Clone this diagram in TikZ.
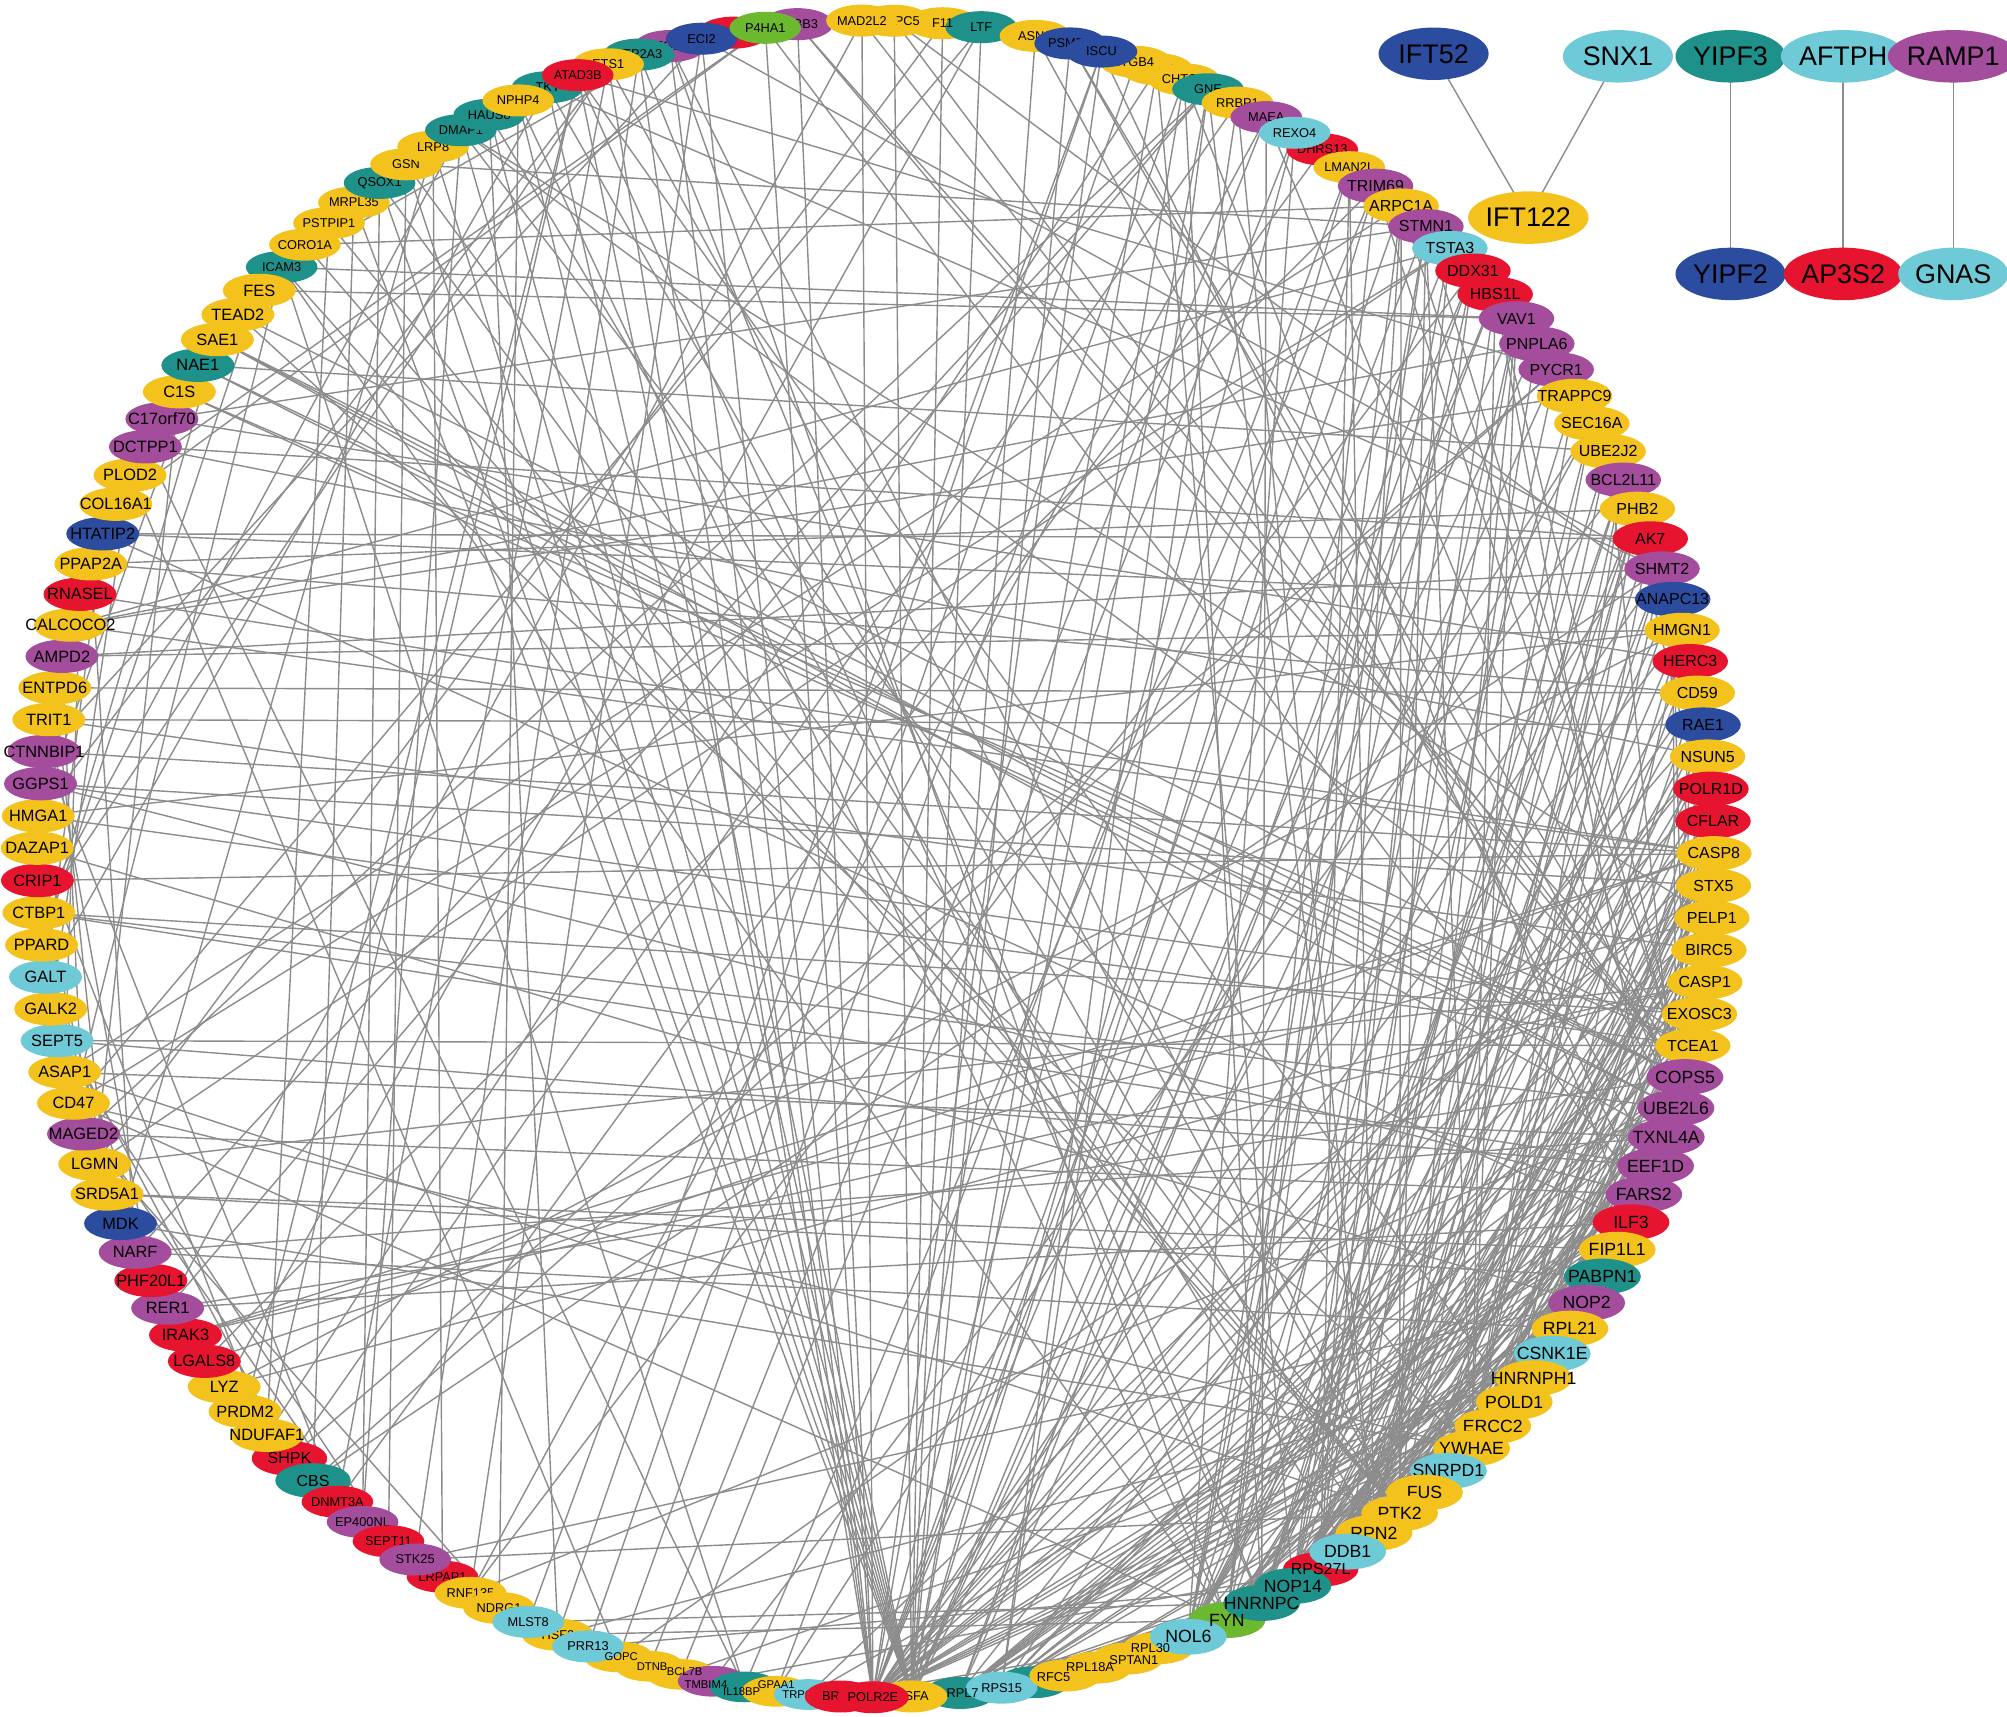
\documentclass[tikz,border=0pt]{standalone}
\usepackage{fontspec}
\setmainfont{Liberation Sans}
\usetikzlibrary{shapes.geometric}
\definecolor{cy}{HTML}{F4C21C}
\definecolor{cp}{HTML}{A44D9C}
\definecolor{ct}{HTML}{1F918B}
\definecolor{cr}{HTML}{E6142F}
\definecolor{cb}{HTML}{2B4C9F}
\definecolor{cc}{HTML}{6ECAD6}
\definecolor{cg}{HTML}{6CB82F}
\definecolor{edgec}{HTML}{8C8C8C}
\pgfdeclarelayer{bg}
\pgfsetlayers{bg,main}
\tikzset{
 gn/.style={ellipse, inner sep=0pt, text=black},
 gt/.style={gn, minimum width=54pt, minimum height=24pt, font=\fontsize{8.8}{9}\selectfont},
 gs/.style={gn, minimum width=56pt, minimum height=25pt, font=\fontsize{10}{11}\selectfont},
 gw/.style={gn, minimum width=57pt, minimum height=26pt, font=\fontsize{12.8}{13}\selectfont},
 gm/.style={gn, minimum width=59pt, minimum height=27pt, font=\fontsize{12.5}{13}\selectfont},
 gl/.style={gn, minimum width=60pt, minimum height=28pt, font=\fontsize{13.8}{15}\selectfont},
 gx/.style={gn, minimum width=86pt, minimum height=41pt, font=\fontsize{21}{23}\selectfont},
 edge/.style={draw=edgec, line width=1.1pt},
}
\newcommand{\cn}[5]{%
 \pgfmathsetmacro{\ang}{-45.1+#1*2.2086}%
 \node[#3, fill=#4] (#2) at ({684+655*sin(\ang)},{671-655*cos(\ang)}) {\makebox[0pt]{#5}};%
}
\newcommand{\cl}[4][]{\node[#3, fill=none, #1] at (#2.center) {\makebox[0pt]{#4}};}
\newcommand{\hub}[2]{\foreach \t in {#2}{\draw[edge] (#1.center) -- (\t.center);}}
\begin{document}
\begin{tikzpicture}[x=1pt,y=-1pt]
\useasboundingbox (0,0) rectangle (1568,1341);
% ---------- top ----------
\cn{0}{ICAM3}{gs}{ct}{ICAM3}
\cn{1}{CORO1A}{gs}{cy}{CORO1A}
\cn{2}{PSTPIP1}{gs}{cy}{PSTPIP1}
\cn{3}{MRPL35}{gs}{cy}{MRPL35}
\cn{4}{QSOX1}{gs}{ct}{QSOX1}
\cn{5}{GSN}{gs}{cy}{GSN}
\cn{6}{LRP8}{gs}{cy}{LRP8}
\cn{7}{DMAP1}{gs}{ct}{DMAP1}
\cn{8}{HAUS8}{gs}{ct}{HAUS8}
\cn{10}{TKT}{gs}{ct}{TKT}
\cn{9}{NPHP4}{gs}{cy}{NPHP4}
\cn{14}{ITGB3}{gs}{cp}{ITGB3}
\cn{13}{ATP2A3}{gs}{ct}{ATP2A3}
\cn{12}{ETS1}{gs}{cy}{ETS1}
\cn{11}{ATAD3B}{gs}{cr}{ATAD3B}
\cn{16}{redtop}{gs}{cr}{}
\cn{15}{ECI2}{gs}{cb}{ECI2}
\cn{18}{TUBB3}{gs}{cp}{TUBB3}
\cn{17}{P4HA1}{gs}{cg}{P4HA1}
\cn{22.5}{F11}{gs}{cy}{}
\cn{23.7}{LTF}{gs}{ct}{LTF}
\cn{21}{ANAPC5}{gs}{cy}{ANAPC5}
\cn{20}{MAD2L2}{gs}{cy}{MAD2L2}
\cl{F11}{gs}{F11}
\cn{25.4}{ASNS}{gs}{cy}{ASNS}
\cn{26.5}{PSMD1}{gs}{cb}{PSMD1}
\cn{29.3}{SMC4}{gs}{cy}{SMC4}
\cn{28.6}{ITGB4}{gs}{cy}{ITGB4}
\cn{27.5}{ISCU}{gs}{cb}{ISCU}
\cn{30.2}{CHTOP}{gs}{cy}{CHTOP}
\cn{31}{GNE}{gs}{ct}{GNE}
\cn{32}{RRBP1}{gs}{cy}{RRBP1}
\cn{33}{MAEA}{gs}{cp}{MAEA}
\cn{35}{DHRS13}{gs}{cr}{DHRS13}
\cn{34}{REXO4}{gs}{cc}{REXO4}
\cn{36}{LMAN2L}{gs}{cy}{LMAN2L}
\cn{37}{TRIM69}{gm}{cp}{TRIM69}
\cn{38}{ARPC1A}{gm}{cy}{ARPC1A}
\cn{39}{STMN1}{gm}{cp}{STMN1}
\cn{40}{TSTA3}{gm}{cc}{TSTA3}
% ---------- right ----------
\cn{41}{DDX31}{gm}{cr}{DDX31}
\cn{42}{HBS1L}{gm}{cr}{HBS1L}
\cn{43}{VAV1}{gm}{cp}{VAV1}
\cn{44}{PNPLA6}{gm}{cp}{PNPLA6}
\cn{45}{PYCR1}{gm}{cp}{PYCR1}
\cn{46}{TRAPPC9}{gm}{cy}{TRAPPC9}
\cn{47}{SEC16A}{gm}{cy}{SEC16A}
\cn{48}{UBE2J2}{gm}{cy}{UBE2J2}
\cn{49}{BCL2L11}{gm}{cp}{BCL2L11}
\cn{50}{PHB2}{gm}{cy}{PHB2}
\cn{51}{AK7}{gm}{cr}{AK7}
\cn{52}{SHMT2}{gm}{cp}{SHMT2}
\cn{53}{ANAPC13}{gm}{cb}{ANAPC13}
\cn{54}{HMGN1}{gm}{cy}{HMGN1}
\cn{55}{HERC3}{gm}{cr}{HERC3}
\cn{56}{CD59}{gm}{cy}{CD59}
\cn{57}{RAE1}{gm}{cb}{RAE1}
\cn{58}{NSUN5}{gm}{cy}{NSUN5}
\cn{59}{POLR1D}{gm}{cr}{POLR1D}
\cn{60}{CFLAR}{gm}{cr}{CFLAR}
\cn{61}{CASP8}{gm}{cy}{CASP8}
\cn{62}{STX5}{gm}{cy}{STX5}
\cn{63}{PELP1}{gm}{cy}{PELP1}
\cn{64}{BIRC5}{gm}{cy}{BIRC5}
\cn{65}{CASP1}{gm}{cy}{CASP1}
\cn{66}{EXOSC3}{gm}{cy}{EXOSC3}
\cn{67}{TCEA1}{gm}{cy}{TCEA1}
\cn{68}{COPS5}{gl}{cp}{COPS5}
\cn{69}{UBE2L6}{gl}{cp}{UBE2L6}
\cn{69.95}{TXNL4A}{gl}{cp}{TXNL4A}
\cn{70.9}{EEF1D}{gl}{cp}{EEF1D}
\cn{71.85}{FARS2}{gl}{cp}{FARS2}
\cn{72.8}{ILF3}{gl}{cr}{ILF3}
\cn{73.75}{FIP1L1}{gl}{cy}{FIP1L1}
\cn{74.7}{PABPN1}{gl}{ct}{PABPN1}
\cn{75.65}{NOP2}{gl}{cp}{NOP2}
\cn{76.6}{RPL21}{gl}{cy}{RPL21}
\cn{77.55}{CSNK1E}{gl}{cc}{CSNK1E}
\cn{78.5}{HNRNPH1}{gl}{cy}{HNRNPH1}
\cn{79.45}{POLD1}{gl}{cy}{POLD1}
\cn{80.45}{ERCC2}{gl}{cy}{ERCC2}
\cn{81.4}{YWHAE}{gl}{cy}{YWHAE}
\cn{82.4}{SNRPD1}{gl}{cc}{SNRPD1}
\cn{83.4}{FUS}{gl}{cy}{FUS}
\cn{84.4}{PTK2}{gl}{cy}{PTK2}
\cn{85.4}{RPN2}{gl}{cy}{RPN2}
% ---------- bottom ----------
\cn{122}{SHPK}{gm}{cr}{SHPK}
\cn{121}{CBS}{gm}{ct}{CBS}
\cn{120}{DNMT3A}{gs}{cr}{DNMT3A}
\cn{119}{EP400NL}{gs}{cp}{EP400NL}
\cn{118}{SEPT11}{gs}{cr}{SEPT11}
\cn{116}{LRPAP1}{gs}{cr}{LRPAP1}
\cn{117}{STK25}{gs}{cp}{STK25}
\cn{115}{RNF135}{gs}{cy}{RNF135}
\cn{114}{NDRG1}{gs}{cy}{NDRG1}
\cn{112}{HSF2}{gs}{cy}{HSF2}
\cn{113}{MLST8}{gs}{cc}{MLST8}
\cn{108}{BCL7B}{gt}{cy}{}
\cn{109}{DTNB}{gt}{cy}{}
\cn{110}{GOPC}{gt}{cy}{}
\cn{111}{PRR13}{gs}{cc}{PRR13}
\cn{107}{TMBIM4}{gt}{cp}{}
\cn{106}{IL18BP}{gt}{ct}{}
\cn{105}{GPAA1}{gt}{cy}{}
\cn{104}{TRPC4AP}{gt}{cc}{TRPC4AP}
\cn{103}{BR}{gs}{cr}{BRIX1}
\cn{99.3}{RPL7}{gs}{ct}{}
\cn{100.8}{GSFA}{gs}{cy}{GSFA}
\cn{102}{POLR2E}{gs}{cr}{POLR2E}
\cn{97}{tealbot}{gs}{ct}{}
\cn{98}{RPS15}{gs}{cc}{}
\cn{96}{RFC5}{gs}{cy}{}
\cn{95}{RPL18A}{gs}{cy}{}
\cn{94}{SPTAN1}{gs}{cy}{}
\cn{93}{RPL30}{gs}{cy}{}
\cn{90.7}{FYN}{gl}{cg}{}
\cn{92}{NOL6}{gl}{cc}{NOL6}
\cn{89.5}{HNRNPC}{gl}{ct}{}
\cn{87.4}{RPS27L}{gm}{cr}{}
\cn{88.4}{NOP14}{gl}{ct}{}
\cn{86.4}{DDB1}{gl}{cc}{DDB1}
\cl[xshift=2pt]{GOPC}{gt}{GOPC}
\cl[xshift=2pt]{DTNB}{gt}{DTNB}
\cl[xshift=3pt,yshift=2pt]{BCL7B}{gt}{BCL7B}
\cl[xshift=-5pt,yshift=-3pt]{TMBIM4}{gt}{TMBIM4}
\cl[xshift=-2pt,yshift=-4pt]{IL18BP}{gt}{IL18BP}
\cl[yshift=5pt]{GPAA1}{gt}{GPAA1}
\cl[xshift=2pt]{RPL7}{gs}{RPL7}
\cl{RPS15}{gs}{RPS15}
\cl[xshift=-9pt,yshift=-1pt]{RFC5}{gs}{RFC5}
\cl[xshift=-5pt]{RPL18A}{gs}{RPL18A}
\cl[xshift=5pt,yshift=-1pt]{SPTAN1}{gs}{SPTAN1}
\cl[xshift=-6pt]{RPL30}{gs}{RPL30}
\cl{FYN}{gl}{FYN}
\cl{HNRNPC}{gl}{HNRNPC}
\cl{RPS27L}{gm}{RPS27L}
\cl{NOP14}{gl}{NOP14}
% ---------- left ----------
\cn{123}{NDUFAF1}{gw}{cy}{NDUFAF1}
\cn{124}{PRDM2}{gw}{cy}{PRDM2}
\cn{125}{LYZ}{gw}{cy}{LYZ}
\cn{126}{LGALS8}{gw}{cr}{LGALS8}
\cn{127}{IRAK3}{gw}{cr}{IRAK3}
\cn{128}{RER1}{gw}{cp}{RER1}
\cn{129}{PHF20L1}{gw}{cr}{PHF20L1}
\cn{130}{NARF}{gw}{cp}{NARF}
\cn{131}{MDK}{gw}{cb}{MDK}
\cn{132}{SRD5A1}{gw}{cy}{SRD5A1}
\cn{133}{LGMN}{gw}{cy}{LGMN}
\cn{134}{MAGED2}{gw}{cp}{MAGED2}
\cn{135}{CD47}{gw}{cy}{CD47}
\cn{136}{ASAP1}{gw}{cy}{ASAP1}
\cn{137}{SEPT5}{gw}{cc}{SEPT5}
\cn{138}{GALK2}{gw}{cy}{GALK2}
\cn{139}{GALT}{gw}{cc}{GALT}
\cn{140}{PPARD}{gw}{cy}{PPARD}
\cn{141}{CTBP1}{gw}{cy}{CTBP1}
\cn{142}{CRIP1}{gw}{cr}{CRIP1}
\cn{143}{DAZAP1}{gw}{cy}{DAZAP1}
\cn{144}{HMGA1}{gw}{cy}{HMGA1}
\cn{145}{GGPS1}{gw}{cp}{GGPS1}
\cn{146}{CTNNBIP1}{gw}{cp}{CTNNBIP1}
\cn{147}{TRIT1}{gw}{cy}{TRIT1}
\cn{148}{ENTPD6}{gw}{cy}{ENTPD6}
\cn{149}{AMPD2}{gw}{cp}{AMPD2}
\cn{150}{CALCOCO2}{gw}{cy}{CALCOCO2}
\cn{151}{RNASEL}{gw}{cr}{RNASEL}
\cn{152}{PPAP2A}{gw}{cy}{PPAP2A}
\cn{153}{HTATIP2}{gw}{cb}{HTATIP2}
\cn{154}{COL16A1}{gw}{cy}{COL16A1}
\cn{155}{PLOD2}{gw}{cy}{PLOD2}
\cn{156}{DCTPP1}{gw}{cp}{DCTPP1}
\cn{157}{C17orf70}{gw}{cp}{C17orf70}
\cn{158}{C1S}{gw}{cy}{C1S}
\cn{159}{NAE1}{gw}{ct}{NAE1}
\cn{160}{SAE1}{gw}{cy}{SAE1}
\cn{161}{TEAD2}{gw}{cy}{TEAD2}
\cn{162}{FES}{gw}{cy}{FES}
% ---------- separate pairs ----------
\node[gx, fill=cb] (IFT52) at (1120,42) {IFT52};
\node[gx, fill=cc] (SNX1) at (1264,44) {SNX1};
\node[gx, fill=ct] (YIPF3) at (1352,44) {YIPF3};
\node[gx, fill=cc] (AFTPH) at (1440,44) {AFTPH};
\node[gx, fill=cp] (RAMP1) at (1526,44) {RAMP1};
\node[gx, fill=cy] (IFT122) at (1194,170) {IFT122};
\node[gx, fill=cb] (YIPF2) at (1352,214) {YIPF2};
\node[gx, fill=cr] (AP3S2) at (1440,214) {AP3S2};
\node[gx, fill=cc] (GNAS) at (1526,214) {GNAS};
% ---------- edges ----------
\begin{pgfonlayer}{bg}
\foreach \a/\b in {IFT52/IFT122,SNX1/IFT122,YIPF3/YIPF2,AFTPH/AP3S2,RAMP1/GNAS}{\draw[edge] (\a.center) -- (\b.center);}
\hub{POLR2E}{TCEA1,POLR1D,ERCC2,POLD1,RFC5,HMGN1,TUBB3,P4HA1,ECI2,ITGB3,ATP2A3,ETS1,TSTA3,STMN1,ARPC1A,EXOSC3,NSUN5,RAE1,COPS5,UBE2L6,ILF3,HNRNPH1,CSNK1E,SMC4,ISCU,MAD2L2,PELP1,FIP1L1,PABPN1,DDX31,REXO4,CASP8,SHMT2,AK7}
\hub{GSFA}{ANAPC5,F11,LTF,ASNS,PSMD1,CHTOP,GNE,HBS1L,VAV1,LRP8,GSN,NPHP4,TKT,DMAP1,QSOX1,MRPL35,HAUS8,ATAD3B,TRIM69,LMAN2L,SEC16A,PNPLA6}
\hub{RPL7}{RPL21,RPS27L,RPL30,NOP2,NOP14,NOL6,EEF1D,FARS2,ILF3,HNRNPC,RPL18A,NSUN5,UBE2L6,TXNL4A,COPS5,DDX31,HBS1L,PYCR1}
\hub{RPS15}{RPL21,RPS27L,RPL30,NOP2,NOP14,EEF1D,HNRNPH1,FARS2,CASP1,BIRC5,GNE,RRBP1,CD59}
\hub{NOL6}{NOP14,NOP2,RAE1,NSUN5,POLR1D,DDX31,EXOSC3,RPL21,FIP1L1,REXO4,TSTA3,STMN1,TRAPPC9,PHB2,HERC3,CD59,ANAPC13,ILF3}
\hub{HNRNPC}{HNRNPH1,ILF3,FUS,SNRPD1,PABPN1,FIP1L1,TXNL4A,EEF1D,YWHAE,CSNK1E,COPS5,NOP2,SHMT2,HMGN1,PHB2,UBE2J2,BCL2L11,MAEA,CHTOP}
\hub{NOP14}{NOP2,RPL21,NSUN5,POLR1D,DDX31,EXOSC3,RAE1,TCEA1,CASP8,STX5,PELP1,AK7,PYCR1,VAV1,SEC16A}
\hub{FYN}{PTK2,VAV1,CASP8,YWHAE,BCL2L11,STMN1,ICAM3,PELP1,CD47,CSNK1E,UBE2L6,CFLAR,BIRC5,TRIM69,ARPC1A}
\hub{RPS27L}{DDB1,ERCC2,POLD1,CASP8,CFLAR,BIRC5,CASP1,TXNL4A,FARS2,UBE2L6,STX5,HBS1L,TSTA3,ARPC1A,LMAN2L}
\hub{DDB1}{ERCC2,POLD1,COPS5,RFC5,CASP8,CFLAR,UBE2L6,EEF1D,ANAPC13,HERC3,SHMT2,PHB2,PNPLA6}
\hub{RPN2}{RPL21,NOP2,FARS2,EEF1D,SEC16A,TRAPPC9,STX5,LMAN2L,RRBP1,PHB2,UBE2J2,GNE}
\hub{PTK2}{YWHAE,CASP8,CFLAR,BIRC5,BCL2L11,VAV1,ICAM3,CORO1A,ARPC1A,STMN1,GSN,PELP1}
\hub{FUS}{ILF3,SNRPD1,HNRNPH1,FIP1L1,PABPN1,TXNL4A,EXOSC3,EEF1D,CD59,HMGN1}
\hub{YWHAE}{BIRC5,CASP8,BCL2L11,CFLAR,CSNK1E,STMN1,VAV1,COPS5,SHMT2,AK7,PHB2,HBS1L,TEAD2}
\hub{SNRPD1}{TXNL4A,PABPN1,FIP1L1,ILF3,NOP2,HNRNPH1,EXOSC3,TCEA1}
\hub{ERCC2}{POLD1,TCEA1,RFC5,CASP1,BIRC5,POLR1D,RAE1}
\hub{POLD1}{RFC5,PELP1,CASP8,EXOSC3,HMGN1}
\hub{HNRNPH1}{ILF3,TXNL4A,FARS2,NSUN5,COPS5}
\hub{CSNK1E}{COPS5,UBE2L6,STX5,CASP8}
\hub{COPS5}{CASP8,CFLAR,UBE2L6,ANAPC13,HERC3,HBS1L,ARPC1A,STMN1,TUBB3,MAD2L2,ANAPC5,SAE1,NAE1,C1S}
\hub{UBE2L6}{HERC3,UBE2J2,ANAPC13,TRIM69,RNF135,MAEA,SAE1,NAE1}
\hub{CASP8}{CFLAR,CASP1,BIRC5,BCL2L11,IRAK3,RNASEL,CTNNBIP1,LGALS8,CALCOCO2}
\hub{CASP1}{BIRC5,IRAK3,LYZ}
\hub{EEF1D}{FARS2,ILF3,HBS1L,CTBP1,SEPT5}
\hub{TCEA1}{SEPT5,HMGA1,DMAP1}
\foreach \a/\b in {CORO1A/ARPC1A,PSTPIP1/PTK2,MRPL35/CBS,QSOX1/EP400NL,GSN/SEPT11,LRP8/LRPAP1,DMAP1/CTBP1,DMAP1/PELP1,HAUS8/HSF2,NPHP4/NDRG1,TKT/SHMT2,TKT/GALT,ATAD3B/POLD1,ETS1/HMGA1,ETS1/CTBP1,ATP2A3/STK25,ECI2/RNF135,P4HA1/PLOD2,P4HA1/COL16A1,PLOD2/COL16A1,TUBB3/TCEA1,MAD2L2/RER1,ANAPC5/ANAPC13,F11/LGMN,LTF/LYZ,ISCU/MLST8,ITGB4/PRR13,SMC4/NDUFAF1,CHTOP/GOPC,GNE/NARF,RRBP1/SHPK,MAEA/DTNB,REXO4/BCL7B,DHRS13/DNMT3A,LMAN2L/GPAA1,TRIM69/IL18BP,ICAM3/CD47,FES/PPARD,C1S/TCEA1,C17orf70/HERC3,DCTPP1/IL18BP,PLOD2/GOPC,HTATIP2/AK7,PPAP2A/CD59,PPAP2A/NARF,RNASEL/ASAP1,CALCOCO2/TRAPPC9,AMPD2/HMGN1,AMPD2/MAGED2,ENTPD6/SRD5A1,TRIT1/BIRC5,TRIT1/PHF20L1,CTNNBIP1/DNMT3A,GGPS1/EXOSC3,GGPS1/STX5,HMGA1/NAE1,DAZAP1/NDUFAF1,CRIP1/MDK,CTBP1/UBE2L6,PPARD/SAE1,GALT/SRD5A1,GALT/HTATIP2,GALK2/PLOD2,SEPT5/SEPT11,ASAP1/PTK2,ASAP1/TXNL4A,CD47/EP400NL,MAGED2/FARS2,LGMN/TSTA3,SRD5A1/FIP1L1,SRD5A1/PABPN1,MDK/LRP8,NARF/RPL21,PHF20L1/DNMT3A,RER1/ILF3,RER1/GNE,IRAK3/PELP1,LGALS8/TRIM69,PRDM2/EP400NL,PRDM2/ATAD3B,NDUFAF1/PSTPIP1,SHPK/PYCR1,CBS/SHMT2,DNMT3A/ETS1,EP400NL/DMAP1,STK25/NOP2,RNF135/DDX31,MLST8/HNRNPC,HSF2/HNRNPH1,TMBIM4/BCL2L11,TRPC4AP/CFLAR,BR/NOL6,DCTPP1/NSUN5,HTATIP2/ANAPC13,C17orf70/ENTPD6,VAV1/ICAM3,VAV1/FES,STMN1/GSN,TSTA3/CD47,PNPLA6/CALCOCO2,PYCR1/ATAD3B,SEC16A/LMAN2L,UBE2J2/HERC3}{\draw[edge] (\a.center) -- (\b.center);}
\foreach \a/\b in {ECI2/CTNNBIP1,ECI2/SHMT2,ITGB3/ICAM3,ITGB3/FYN,ITGB3/PTK2,ATP2A3/HNRNPC,P4HA1/FARS2,ISCU/FARS2,ISCU/HSF2,GNE/MAGED2,CHTOP/ILF3,SMC4/NOP14,PSMD1/COPS5,PSMD1/UBE2L6,ASNS/EEF1D,LTF/CD47,MAEA/RNF135,CALCOCO2/TSTA3,AMPD2/SHMT2,CTBP1/EXOSC3,TEAD2/TCEA1,SAE1/TXNL4A,C1S/LGMN,HTATIP2/ILF3,NAE1/UBE2J2,C17orf70/STMN1,DCTPP1/AK7,PPAP2A/PHB2,ENTPD6/CD59,TRIT1/RAE1,GGPS1/FARS2,HMGA1/HMGN1,DAZAP1/NOP2,CRIP1/CASP8,PPARD/RER1,GALK2/SHPK,ASAP1/ARPC1A,CD47/YWHAE,MAGED2/NDRG1,LGMN/CASP1,MDK/YWHAE,NARF/TXNL4A,RER1/COPS5,LYZ/HMGN1,NDUFAF1/ATAD3B,CBS/PYCR1,STK25/PTK2,HSF2/FYN,PRR13/NOP14,GOPC/STX5,BCL7B/HNRNPH1,TMBIM4/RPS27L,IL18BP/ICAM3,GPAA1/SEC16A,TRPC4AP/ILF3,QSOX1/RPN2,DMAP1/YWHAE,HAUS8/DDB1,NPHP4/FYN,TKT/RPN2,ATAD3B/HNRNPC,ETS1/PTK2}{\draw[edge] (\a.center) -- (\b.center);}
\end{pgfonlayer}
\end{tikzpicture}
\end{document}
